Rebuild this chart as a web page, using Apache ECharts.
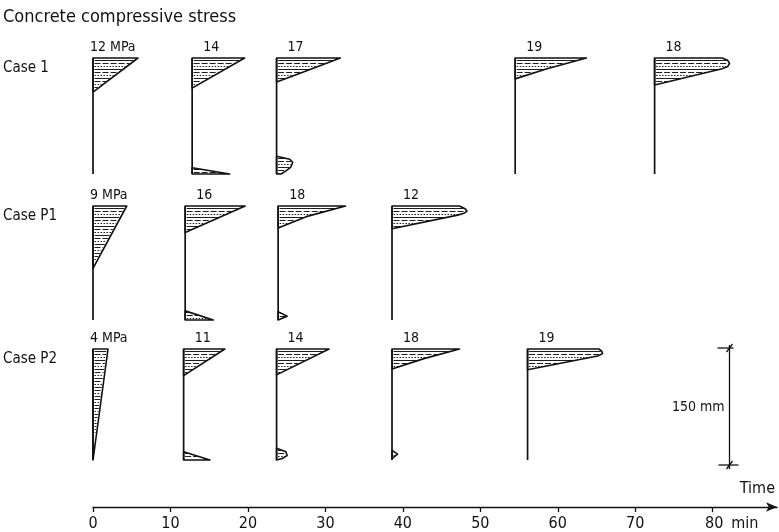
<!DOCTYPE html>
<html>
<head>
<meta charset="utf-8">
<script src="https://cdn.jsdelivr.net/npm/echarts@6/dist/echarts.min.js"></script>
<style>
  html, body { margin: 0; padding: 0; background: #fff; }
  #chart { width: 779px; height: 532px; }
</style>
</head>
<body>
<div id="chart"></div>
<script>
// Concrete compressive stress over the 150 mm depth of the slab, at several times.
// Each profile is a list of outline segments; a segment is a list of [depth mm, stress MPa]
// points running down the depth, closed against the profile's vertical base line.

const caseNames = ['Case 1', 'Case P1', 'Case P2'];

const case1Times = [0, 12.8, 23.7, 54.5, 72.5];
const case1Labels = ['12 MPa', '14', '17', '19', '18'];
const case1Profiles = [
  [[[0, 12], [44, 0]]],
  [[[0, 14], [39, 0]], [[142, 0], [150, 10]]],
  [[[0, 17], [12, 10.5], [23, 4.5], [31, 0]],
   [[127, 0], [131, 3.5], [135, 4.3], [141, 3.8], [146, 2.5], [150, 1.2]]],
  [[[0, 19], [14, 8.5], [27, 0]]],
  [[[0, 18], [3, 19.5], [7, 20], [11, 19.5], [14, 18], [35, 0]]]
];

const caseP1Times = [0, 11.9, 23.9, 38.6];
const caseP1Labels = ['9 MPa', '16', '18', '12'];
const caseP1Profiles = [
  [[[0, 9], [82, 0]]],
  [[[0, 16], [35, 0]], [[138, 0], [150, 7.5]]],
  [[[0, 18], [14, 7.5], [29, 0]], [[139, 0], [145, 2.4], [150, 0]]],
  [[[0, 18], [4, 19.6], [7, 20], [10, 19], [12, 17.5], [30, 0]]]
];

const caseP2Times = [0, 11.7, 23.7, 38.6, 56.1];
const caseP2Labels = ['4 MPa', '11', '14', '18', '19'];
const caseP2Profiles = [
  [[[0, 4], [150, 0]]],
  [[[0, 11], [36, 0]], [[139, 0], [150, 7]]],
  [[[0, 14], [35, 0]], [[134, 0], [139, 2.5], [144, 2.8], [148, 1.5], [150, 0]]],
  [[[0, 18], [13, 8.5], [27, 0]], [[137, 0], [142, 1.5], [148, 0]]],
  [[[0, 19], [3, 19.8], [6, 20], [9, 19], [28, 0]]]
];

const depthMax = 150;                 // mm
const depthBar = [82.1, 0, 150];      // time position, from depth, to depth (mm)
const timeTicks = [0, 10, 20, 30, 40, 50, 60, 70, 80];
const timeMax = 88.3;

// drawing scale for stress: minutes of the time axis per MPa
const MIN_PER_MPA = 0.484;

const INK = '#111';
const FONT = "'Liberation Sans Narrow', 'DejaVu Sans Condensed', 'DejaVu Sans', sans-serif";
const HATCH_GAP = 3;
const DASHES = [null, [6, 2], [1.5, 1.5]];

const rows = [
  { times: case1Times, labels: case1Labels, profiles: case1Profiles },
  { times: caseP1Times, labels: caseP1Labels, profiles: caseP1Profiles },
  { times: caseP2Times, labels: caseP2Labels, profiles: caseP2Profiles }
];

const gridBoxes = [
  { top: 58, height: 116 },
  { top: 206, height: 114 },
  { top: 349, height: 111 }
];

function hatchLines(px, x0) {
  const out = [];
  const yStart = px[0][1], yEnd = px[px.length - 1][1];
  let n = 0;
  for (let y = yStart + 1.6; y < yEnd - 0.6; y += HATCH_GAP) {
    const yy = Math.round(y) + 0.5;
    let xb = null;
    for (let j = 0; j < px.length - 1; j++) {
      const a = px[j], b = px[j + 1];
      if (b[1] > a[1] && yy >= a[1] && yy <= b[1]) {
        xb = a[0] + (b[0] - a[0]) * (yy - a[1]) / (b[1] - a[1]);
        break;
      }
    }
    if (xb !== null && xb - x0 > 3.5) {
      out.push({
        type: 'line',
        shape: { x1: x0 + 1.5, y1: yy, x2: xb - 1.2, y2: yy },
        style: { stroke: '#1e1e1e', lineWidth: 1, lineDash: DASHES[n % 3] }
      });
    }
    n++;
  }
  return out;
}

function profileSeries(rowIdx) {
  const row = rows[rowIdx];
  return {
    type: 'custom',
    xAxisIndex: rowIdx,
    yAxisIndex: rowIdx,
    clip: false,
    silent: true,
    data: row.times.map((t, i) => [t, i]),
    encode: { x: 0 },
    renderItem(params, api) {
      const t = api.value(0);
      const i = api.value(1);
      const children = [];
      const top = api.coord([t, 0]);
      const bot = api.coord([t, depthMax]);
      row.profiles[i].forEach(seg => {
        const px = seg.map(([d, s]) => api.coord([t + s * MIN_PER_MPA, d]));
        const poly = [api.coord([t, seg[0][0]])].concat(px, [api.coord([t, seg[seg.length - 1][0]])]);
        children.push.apply(children, hatchLines(poly, top[0]));
        children.push({
          type: 'polygon',
          shape: { points: poly },
          style: { fill: 'none', stroke: INK, lineWidth: 1.6, lineJoin: 'round' }
        });
      });
      children.push({
        type: 'line',
        shape: { x1: top[0], y1: top[1], x2: bot[0], y2: bot[1] },
        style: { stroke: INK, lineWidth: 1.7 }
      });
      children.push({
        type: 'text',
        x: top[0] + (i === 0 ? -3 : 11),
        y: top[1] - 4,
        style: {
          text: row.labels[i], fill: INK, font: '14px ' + FONT,
          textAlign: 'left', textVerticalAlign: 'bottom'
        }
      });
      return { type: 'group', children };
    }
  };
}

const scaleBarSeries = {
  type: 'custom',
  xAxisIndex: 2,
  yAxisIndex: 2,
  clip: false,
  silent: true,
  data: [depthBar],
  renderItem(params, api) {
    const a = api.coord([api.value(0), api.value(1)]);
    const b = api.coord([api.value(0), api.value(2)]);
    const x = Math.round(a[0]) + 0.5;
    const st = { stroke: INK, lineWidth: 1.3 };
    return {
      type: 'group',
      children: [
        { type: 'line', shape: { x1: x, y1: a[1] - 4, x2: x, y2: b[1] + 9 }, style: st },
        { type: 'line', shape: { x1: x - 12, y1: a[1] - 1, x2: x + 4, y2: a[1] - 1 }, style: st },
        { type: 'line', shape: { x1: x - 3, y1: a[1] + 3, x2: x + 3, y2: a[1] - 5 }, style: st },
        { type: 'line', shape: { x1: x - 11, y1: b[1] + 5, x2: x + 9, y2: b[1] + 5 }, style: st },
        { type: 'line', shape: { x1: x - 3, y1: b[1] + 9, x2: x + 3, y2: b[1] + 1 }, style: st },
        {
          type: 'text', x: x - 5, y: (a[1] + b[1]) / 2 + 3,
          style: {
            text: (api.value(2) - api.value(1)) + ' mm', fill: INK, font: '14px ' + FONT,
            textAlign: 'right', textVerticalAlign: 'middle'
          }
        }
      ]
    };
  }
};

const grids = gridBoxes.map(g => ({ left: 93, right: 2, top: g.top, height: g.height }));

const xAxes = gridBoxes.map((g, i) => {
  const visible = i === 2;
  return {
    type: 'value',
    gridIndex: i,
    min: 0,
    max: timeMax,
    position: 'bottom',
    offset: visible ? 47 : 0,
    show: visible,
    splitLine: { show: false },
    name: visible ? 'Time' : '',
    nameLocation: 'end',
    nameGap: -2,
    nameTextStyle: {
      color: INK, fontSize: 16, fontFamily: FONT,
      align: 'right', verticalAlign: 'bottom', padding: [0, 0, 10, 0]
    },
    axisLine: {
      show: true,
      onZero: false,
      symbol: ['none', 'arrow'],
      symbolSize: [7, 11],
      lineStyle: { color: INK, width: 1.4 }
    },
    axisTick: {
      show: true, length: 5, customValues: timeTicks,
      lineStyle: { color: INK, width: 1.3 }
    },
    axisLabel: {
      show: true, customValues: timeTicks, margin: 9,
      color: INK, fontSize: 16, fontFamily: FONT,
      formatter: v => v === timeTicks[timeTicks.length - 1] ? '{pad|}' + v + '{u|min}' : String(v),
      rich: { pad: { width: 38 }, u: { padding: [0, 0, 0, 8] } }
    }
  };
});

const yAxes = gridBoxes.map((g, i) => ({
  type: 'value', gridIndex: i, min: 0, max: depthMax, inverse: true, show: false
}));

const titles = [
  {
    text: 'Concrete compressive stress', left: 3, top: 8, padding: 0,
    textStyle: { color: INK, fontSize: 18, fontWeight: 'normal', fontFamily: FONT }
  }
].concat(caseNames.map((name, i) => ({
  text: name, left: 3, top: gridBoxes[i].top + 3, padding: 0,
  textStyle: { color: INK, fontSize: 15, fontWeight: 'normal', fontFamily: FONT }
})));

const chart = echarts.init(document.getElementById('chart'), null, { renderer: 'canvas' });
chart.setOption({
  backgroundColor: '#fff',
  animation: false,
  title: titles,
  grid: grids,
  xAxis: xAxes,
  yAxis: yAxes,
  series: [profileSeries(0), profileSeries(1), profileSeries(2), scaleBarSeries]
});
</script>
</body>
</html>
